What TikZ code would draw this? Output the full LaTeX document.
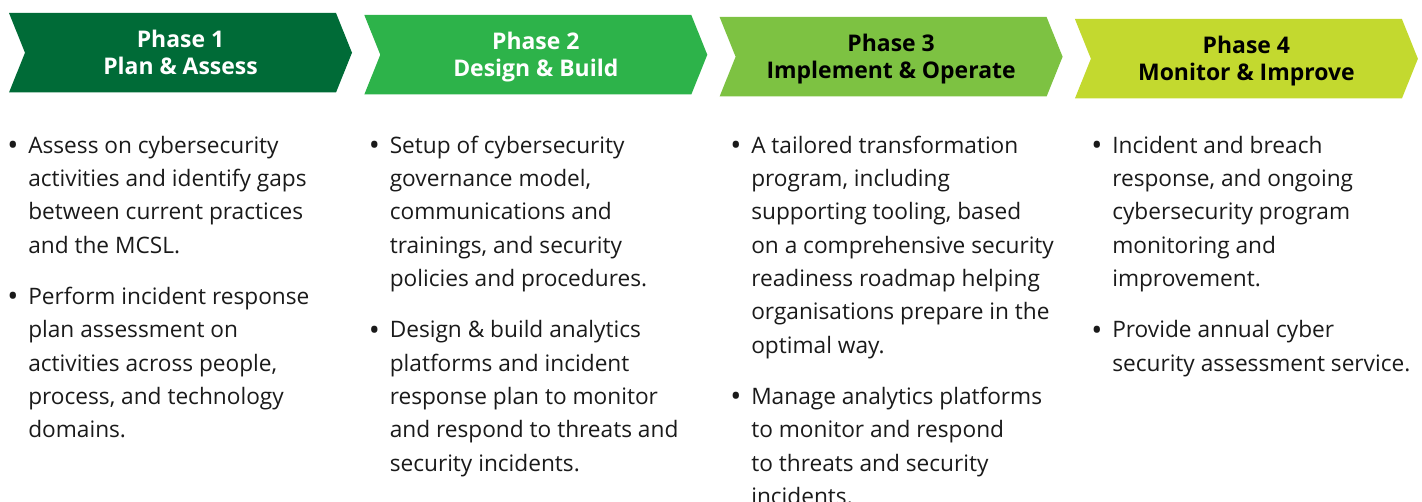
\documentclass[tikz,border=0pt]{standalone}
\usepackage{fontspec}
\setmainfont{Open Sans}
\usetikzlibrary{positioning}

\definecolor{phaseone}{HTML}{006B37}
\definecolor{phasetwo}{HTML}{2DB34A}
\definecolor{phasethree}{HTML}{7DC242}
\definecolor{phasefour}{HTML}{C3D92F}
\definecolor{ink}{HTML}{1A1A1A}

\newcommand\bul{\llap{\makebox[0pt]{\raisebox{-1.8pt}{\scalebox{1.3}{\textbullet}}}\hspace{11.5pt}}}

\begin{document}
\begin{tikzpicture}[x=.75pt,y=-.75pt,
    head/.style={align=center,inner sep=0pt,font=\fontsize{17.2}{20}\selectfont\bfseries},
    item/.style={align=left,inner sep=0pt,anchor=north west,text=ink,font=\fontsize{17}{25}\selectfont}]
\useasboundingbox (0,0) rectangle (1422,502);

% chevrons
\foreach \i/\col in {0/phaseone,1/phasetwo,2/phasethree,3/phasefour}
  \fill[\col] (9+355.3*\i,13+2*\i) -- ++(327,0) -- ++(16,39.75) -- ++(-16,39.75)
    -- ++(-327,0) -- ++(16,-39.75) -- cycle;

\node (h1) [head,white] at (180.5,56) {\strut Phase 1\\\strut Plan \& Assess};
\node (h2) [head,white] at (535.8,58) {\strut Phase 2\\\strut Design \& Build};
\node (h3) [head] at (891.1,60) {\strut Phase 3\\\strut Implement \& Operate};
\node (h4) [head] at (1246.4,62) {\strut Phase 4\\\strut Monitor \& Improve};

% bullet lists
\node (a1) [item] at (28,129.7) {\bul\strut Assess on cybersecurity\\activities and identify gaps\\between current practices\\and the MCSL.\strut};
\node (a2) [item,below right=13pt and 0pt of a1.south west] {\bul\strut Perform incident response\\plan assessment on\\activities across people,\\process, and technology\\domains.\strut};

\node (b1) [item] at (389.5,129.7) {\bul\strut Setup of cybersecurity\\governance model,\\communications and\\trainings, and security\\policies and procedures.\strut};
\node (b2) [item,below right=13pt and 0pt of b1.south west] {\bul\strut Design \& build analytics\\platforms and incident\\response plan to monitor\\and respond to threats and\\security incidents.\strut};

\node (c1) [item] at (751,129.7) {\bul\strut A tailored transformation\\program, including\\supporting tooling, based\\on a comprehensive security\\readiness roadmap helping\\organisations prepare in the\\optimal way.\strut};
\node (c2) [item,below right=13pt and 0pt of c1.south west] {\bul\strut Manage analytics platforms\\to monitor and respond\\to threats and security\\incidents.\strut};

\node (d1) [item] at (1112,129.7) {\bul\strut Incident and breach\\response, and ongoing\\cybersecurity program\\monitoring and\\improvement.\strut};
\node (d2) [item,below right=13pt and 0pt of d1.south west] {\bul\strut Provide annual cyber\\security assessment service.\strut};

\end{tikzpicture}
\end{document}
